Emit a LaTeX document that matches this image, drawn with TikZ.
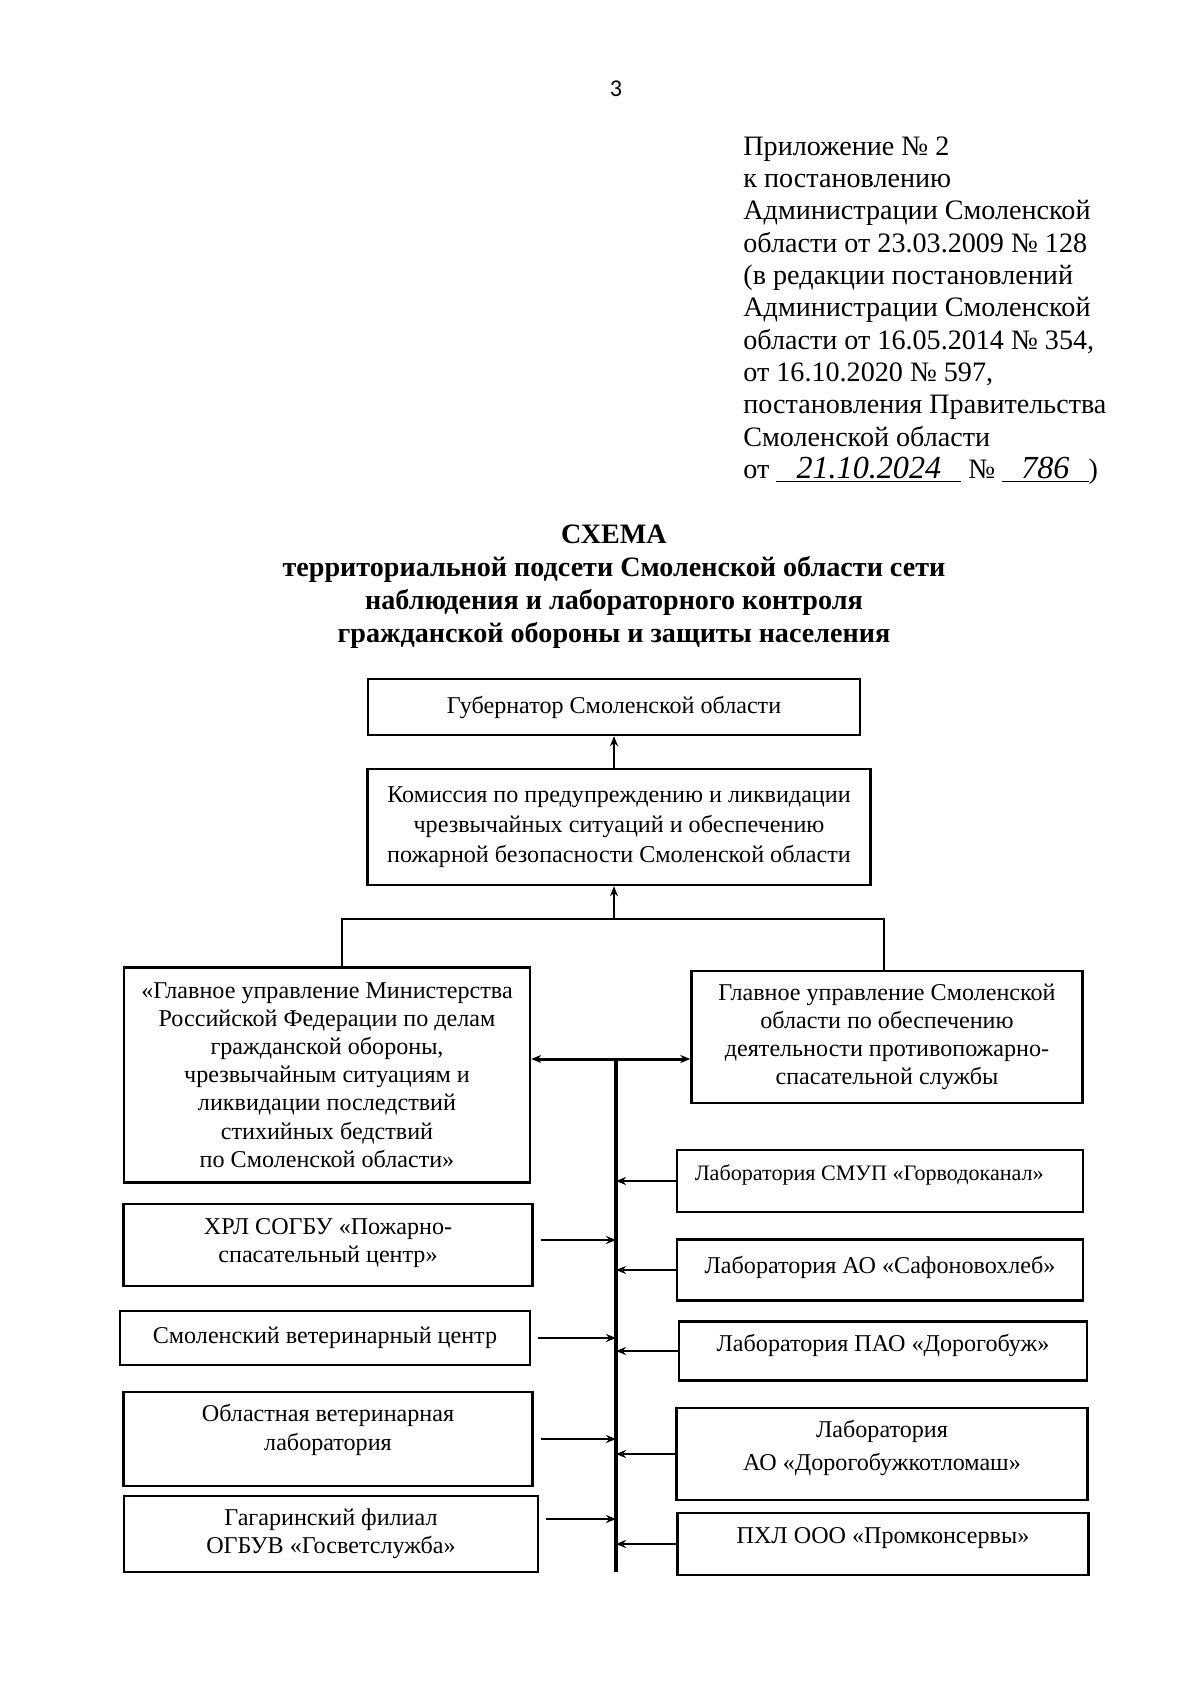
\documentclass[tikz,border=0pt]{standalone}
\usepackage{fontspec}
\setmainfont{Liberation Serif}
\newfontfamily\pgnfont{Carlito}
\usetikzlibrary{arrows.meta,calc}

\newcommand{\px}{0.4977pt}
\newcommand{\boxfont}{\fontsize{12}{14}\selectfont}
\newcommand{\hdrfont}{\fontsize{14}{16.1}\selectfont}
\newcommand{\ttlfont}{\fontsize{14}{16.5}\selectfont\bfseries}
% raise text inside a box without changing the box
\newcommand{\upby}[2]{\raisebox{#1}[\height][\depth]{#2}}

\begin{document}
\begin{tikzpicture}[x=\px, y=-\px,
    box/.style={draw, line width=1.2pt, align=center, font=\boxfont, inner sep=2pt},
    tobus/.style={->, line width=0.8pt},
    >={Stealth[length=5pt,width=4pt]}]
  \useasboundingbox (0,0) rectangle (1200,1684);

  % page number and header
  \node[font=\pgnfont\fontsize{12}{14}\selectfont] (pg) at (616,89) {3};
  \node[anchor=north west, align=left, font=\hdrfont, inner sep=0pt] (app) at (743,136)
    {Приложение № 2\\
     к постановлению\\
     Администрации Смоленской\\
     области от 23.03.2009 № 128\\
     (в редакции постановлений\\
     Администрации Смоленской\\
     области от 16.05.2014 № 354,\\
     от 16.10.2020 № 597,\\
     постановления Правительства\\
     Смоленской области\\
     от \underline{\makebox[92pt]{\itshape\fontsize{16}{16}\selectfont 21.10.2024}} №
     \underline{\makebox[43pt]{\itshape\fontsize{16}{16}\selectfont 786}})};

  \node[anchor=north, align=center, font=\ttlfont, inner sep=0pt] (ttl) at (614,524)
    {СХЕМА\\
     территориальной подсети Смоленской области сети\\
     наблюдения и лабораторного контроля\\
     гражданской обороны и защиты населения};

  % boxes
  \node[box, minimum width=492*\px, minimum height=56*\px] (gov) at (614,707)
    {Губернатор Смоленской области};
  \node[box, minimum width=503*\px, minimum height=116*\px] (com) at (619,827)
    {Комиссия по предупреждению и ликвидации\\[1pt]
     чрезвычайных ситуаций и обеспечению\\[1pt]
     пожарной безопасности Смоленской области};
  \node[box, minimum width=406*\px, minimum height=215*\px] (mchs) at (327,1075)
    {«Главное управление Министерства\\
     Российской Федерации по делам\\
     гражданской обороны,\\
     чрезвычайным ситуациям и\\
     ликвидации последствий\\
     стихийных бедствий\\
     по Смоленской области»};
  \node[box, minimum width=391*\px, minimum height=132*\px] (gus) at (887,1037)
    {Главное управление Смоленской\\
     области по обеспечению\\
     деятельности противопожарно-\\
     спасательной службы};

  \node[box, minimum width=409*\px, minimum height=82*\px] (l1) at (328,1245)
    {\upby{1pt}{\begin{tabular}{@{}c@{}}ХРЛ СОГБУ «Пожарно-\\ спасательный центр»\end{tabular}}};
  \node[box, minimum width=410*\px, minimum height=54*\px] (l2) at (325,1338)
    {Смоленский ветеринарный центр};
  \node[box, minimum width=409*\px, minimum height=94*\px] (l3) at (328,1439)
    {\upby{4.3pt}{\begin{tabular}{@{}c@{}}Областная ветеринарная\\ лаборатория\end{tabular}}};
  \node[box, minimum width=414*\px, minimum height=76*\px] (l4) at (331,1534)
    {Гагаринский филиал\\ ОГБУВ «Госветслужба»};

  \node[box, minimum width=406*\px, minimum height=62*\px, text depth=8pt,
        font=\fontsize{11}{13}\selectfont] (r1) at (880,1181)
    {Лаборатория СМУП «Горводоканал»\hspace*{10.7pt}};
  \node[box, minimum width=406*\px, minimum height=61*\px, text depth=5pt] (r2) at (880,1270)
    {Лаборатория АО «Сафоновохлеб»};
  \node[box, minimum width=408*\px, minimum height=59*\px, text depth=8pt] (r3) at (883,1351)
    {Лаборатория ПАО «Дорогобуж»};
  \node[box, minimum width=411*\px, minimum height=92*\px] (r4) at (882,1454)
    {\upby{3pt}{\begin{tabular}{@{}c@{}}Лаборатория\\[2.5pt] АО «Дорогобужкотломаш»\end{tabular}}};
  \node[box, minimum width=411*\px, minimum height=62*\px, text depth=8pt] (r5) at (883,1544)
    {ПХЛ ООО «Промконсервы»};

  % connectors
  \coordinate (barL) at (342,919);
  \coordinate (barR) at (884,919);
  \coordinate (busTop) at (616,1059);
  \coordinate (busBot) at (616,1572);
  \coordinate (l1a) at ($(l1.east)+(0,-5)$);
  \coordinate (l4a) at ($(l4.east)+(0,-15)$);

  \draw[->, line width=0.8pt] (gov.south |- com.north) -- (gov.south);
  \draw[->, line width=0.8pt] (gov.south |- barL) -- (gov.south |- com.south);
  \draw[line width=1pt] (mchs.north -| barL) -- (barL) -- (barR) -- (gus.north -| barR);
  \draw[line width=1.6pt] (busTop) -- (busBot);
  \draw[<->, line width=1.5pt] (mchs.east |- busTop) -- (gus.west |- busTop);
  \foreach \n in {l1a,l2.east,l3.east,l4a}
    \draw[tobus, shorten <=3.5pt] (\n) -- (\n -| busTop);
  \foreach \n in {r1,r2,r3,r4,r5}
    \draw[tobus] (\n.west) -- (\n.west -| busTop);
\end{tikzpicture}
\end{document}
